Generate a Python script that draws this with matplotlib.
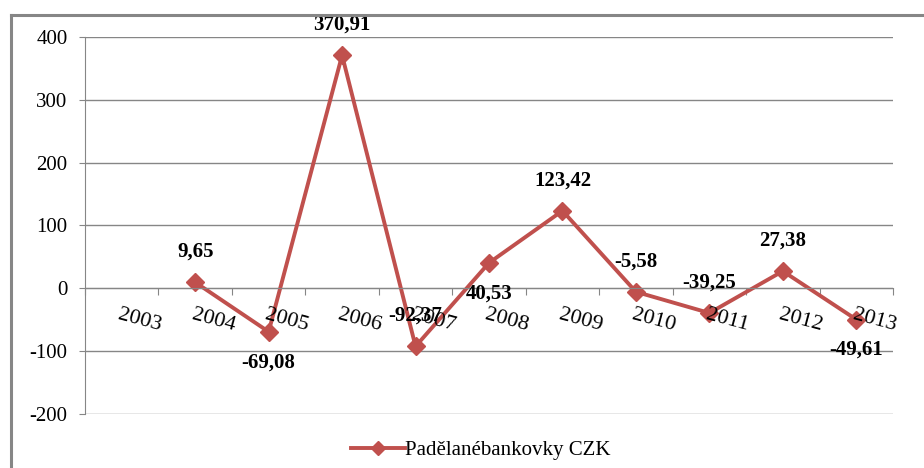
import matplotlib
matplotlib.use("Agg")
import matplotlib.pyplot as plt
from matplotlib.lines import Line2D
import numpy as np

years = ["2003", "2004", "2005", "2006", "2007", "2008",
         "2009", "2010", "2011", "2012", "2013"]
values = [np.nan, 9.65, -69.08, 370.91, -92.37, 40.53,
          123.42, -5.58, -39.25, 27.38, -49.61]
labels = ["", "9,65", "-69,08", "370,91", "-92,37", "40,53",
          "123,42", "-5,58", "-39,25", "27,38", "-49,61"]
# label above (1) or below (-1) the point
label_side = [0, 1, -1, 1, 1, -1, 1, 1, 1, 1, -1]
series_name = "Padělanébankovky CZK"

red = "#C0504D"
grey = "#868686"
plt.rcParams["font.family"] = ["Liberation Serif", "DejaVu Serif"]
plt.rcParams["axes.unicode_minus"] = False

W, H = 924, 468
fig = plt.figure(figsize=(W / 100, H / 100), dpi=100)
ax = fig.add_axes([85 / W, (H - 414) / H, (893 - 85) / W, (414 - 37) / H])

x = np.arange(len(years))
ax.plot(x, values, color=red, lw=2.8, marker="D", markersize=9.5,
        markeredgecolor=red, markerfacecolor=red, label=series_name)

for xi, v, lab, s in zip(x, values, labels, label_side):
    if s == 0:
        continue
    ax.annotate(lab, (xi, v), xytext=(0, 22 * s), textcoords="offset points",
                ha="center", va="center", fontsize=15, fontweight="bold")

ax.set_xlim(-0.5, len(years) - 0.5)
ax.set_ylim(-200, 400)
ax.set_yticks(np.arange(-200, 401, 100))
ax.yaxis.grid(True, color=grey, lw=1)
ax.set_axisbelow(True)
ax.tick_params(axis="y", length=4.5, color=grey, pad=8, labelsize=15)

for sp in ["top", "right", "bottom"]:
    ax.spines[sp].set_visible(False)
ax.spines["left"].set_color(grey)
ax.spines["bottom"].set_visible(True)
ax.spines["bottom"].set_position(("data", 0))
ax.spines["bottom"].set_color(grey)

ax.set_xticks(np.arange(-0.5, len(years), 1.0))
ax.set_xticklabels([])
ax.tick_params(axis="x", length=5, color=grey)

for xi, yr in zip(x, years):
    ax.annotate(yr, (xi, 0), xytext=(13, -23), textcoords="offset points",
                ha="center", va="center", rotation=-15, fontsize=16)

leg = ax.legend(loc="upper center", bbox_to_anchor=(0.49, -0.02), frameon=False,
                fontsize=15, handlelength=2.6, handletextpad=0.0, markerscale=0.75)

# outer chart border
fig.add_artist(Line2D([11 / W, 1], [1 - 15 / H, 1 - 15 / H], color=grey, lw=2.2))
fig.add_artist(Line2D([11 / W, 11 / W], [0, 1 - 15 / H], color=grey, lw=2.2))

fig.savefig("out.png", dpi=100)
